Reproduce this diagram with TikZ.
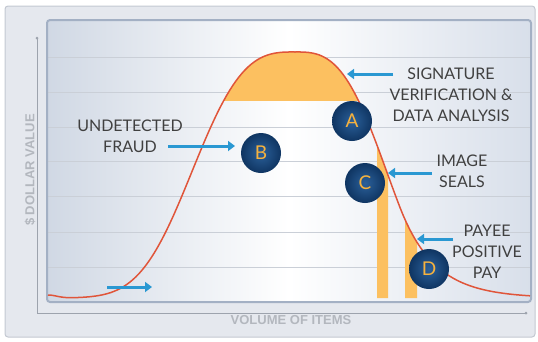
\documentclass[tikz,border=0pt]{standalone}
\usepackage{fontspec}
\setmainfont{Lato}
\newfontfamily\axisfont{Liberation Sans}
\usetikzlibrary{arrows.meta}
\definecolor{panelbg}{HTML}{E5E8EE}
\definecolor{panelln}{HTML}{C3C8D1}
\definecolor{plotln}{HTML}{A3B0C4}
\definecolor{plotl}{HTML}{D0D8E4}
\definecolor{plotr}{HTML}{D8DFEA}
\definecolor{gridc}{HTML}{CACFD7}
\definecolor{axisc}{HTML}{9DA3AD}
\definecolor{axistxt}{HTML}{B3B7BE}
\definecolor{curvec}{HTML}{E0553A}
\definecolor{fillc}{HTML}{FCC060}
\definecolor{arrowc}{HTML}{2A98D2}
\definecolor{badgein}{HTML}{2B609A}
\definecolor{badgeout}{HTML}{0F3562}
\definecolor{badgetxt}{HTML}{F6B23E}
\definecolor{labeltxt}{HTML}{404040}
\tikzset{
  badge/.style={circle, minimum size=40pt, inner sep=0pt, shade, inner color=badgein, outer color=badgeout, text=badgetxt, font=\fontsize{19}{19}\selectfont},
  label3/.style={align=center, text=labeltxt, font=\fontsize{16}{21}\selectfont, inner sep=0pt},
  bluearrow/.style={draw=arrowc, line width=3pt, -{Triangle[length=7pt,width=10pt]}},
  axislabel/.style={text=axistxt, font=\axisfont\bfseries\fontsize{13}{13}\selectfont, inner sep=0pt},
  gridline/.style={draw=gridc, line width=0.8pt},
  axisline/.style={draw=axisc, line width=0.8pt}
}
\def\bellcurve{%
  plot[domain=48:80, samples=12] (\x,{298-246*exp(-((295-\x)/118)*((295-\x)/118)*((295-\x)/118))-3*exp(-((\x-48)/12)*((\x-48)/12))})
  -- plot[domain=80:295, samples=70] (\x,{298-246*exp(-((295-\x)/118)*((295-\x)/118)*((295-\x)/118))})
  -- plot[domain=295:400, samples=40] (\x,{298-246*exp(-((\x-295)/105)*((\x-295)/105)*((\x-295)/105))})
  -- plot[domain=400:530, samples=40] (\x,{298-246*exp(-1-(\x-400)/35)})}
\begin{document}
\begin{tikzpicture}[x=1pt,y=-1pt]
\useasboundingbox (0,0) rectangle (538,341);
% outer panel
\filldraw[fill=panelbg, draw=panelln, line width=1pt, rounded corners=3pt] (5,6) rectangle (535,337);
% axes
\coordinate (ytop) at (37,38);
\coordinate (orig) at (37,313);
\coordinate (xend) at (526,313);
\draw[axisline] (ytop) -- (orig) -- (xend);
\fill[axisc] (ytop) circle (1.5pt);
\fill[axisc] (xend) circle (1.5pt);
\node[axislabel, rotate=90] (ylab) at (30,170) {\$ DOLLAR VALUE};
\node[axislabel] (xlab) at (291,320) {VOLUME OF ITEMS};
% inner plot panel
\shade[left color=plotl, right color=plotr, middle color=white, rounded corners=3pt] (47,20) rectangle (531,302);
\foreach \yy in {57,92,127,161,196,232,267}
  \draw[gridline] (48,\yy) -- (530,\yy);
\draw[draw=plotln, line width=2pt, rounded corners=3pt] (47,20) rectangle (531,302);
% top cap fill
\begin{scope}
\clip (0,0) rectangle (538,100);
\fill[fillc] \bellcurve -- cycle;
\end{scope}
% bars
\begin{scope}
\clip (377,0) rectangle (388,298) (405,0) rectangle (417,298);
\fill[fillc] \bellcurve -- (530,300) -- (48,300) -- cycle;
\end{scope}
% curve
\draw[curvec, line width=1.5pt, line join=round] \bellcurve;
% labels
\node[label3] (sig) at (451,95) {SIGNATURE\\VERIFICATION \&\\DATA ANALYSIS};
\node[label3] (fraud) at (130,136.5) {UNDETECTED\\FRAUD};
\node[label3] (seals) at (462,171) {IMAGE\\SEALS};
\node[label3] (payee) at (487,252) {PAYEE\\POSITIVE\\PAY};
% arrows
\coordinate (a1s) at (107,287); \coordinate (a1e) at (152,287);
\coordinate (a2s) at (168,146); \coordinate (a2e) at (235,146);
\coordinate (a3s) at (393,74);  \coordinate (a3e) at (347,74);
\coordinate (a4s) at (432,173); \coordinate (a4e) at (388,173);
\coordinate (a5s) at (453,239); \coordinate (a5e) at (417,239);
\draw[bluearrow] (a1s) -- (a1e);
\draw[bluearrow] (a2s) -- (a2e);
\draw[bluearrow] (a3s) -- (a3e);
\draw[bluearrow] (a4s) -- (a4e);
\draw[bluearrow] (a5s) -- (a5e);
% badges
\node[badge] (A) at (352,121) {A};
\node[badge] (B) at (261,153) {B};
\node[badge] (C) at (365,183) {C};
\node[badge] (D) at (429,269) {D};
\end{tikzpicture}
\end{document}
